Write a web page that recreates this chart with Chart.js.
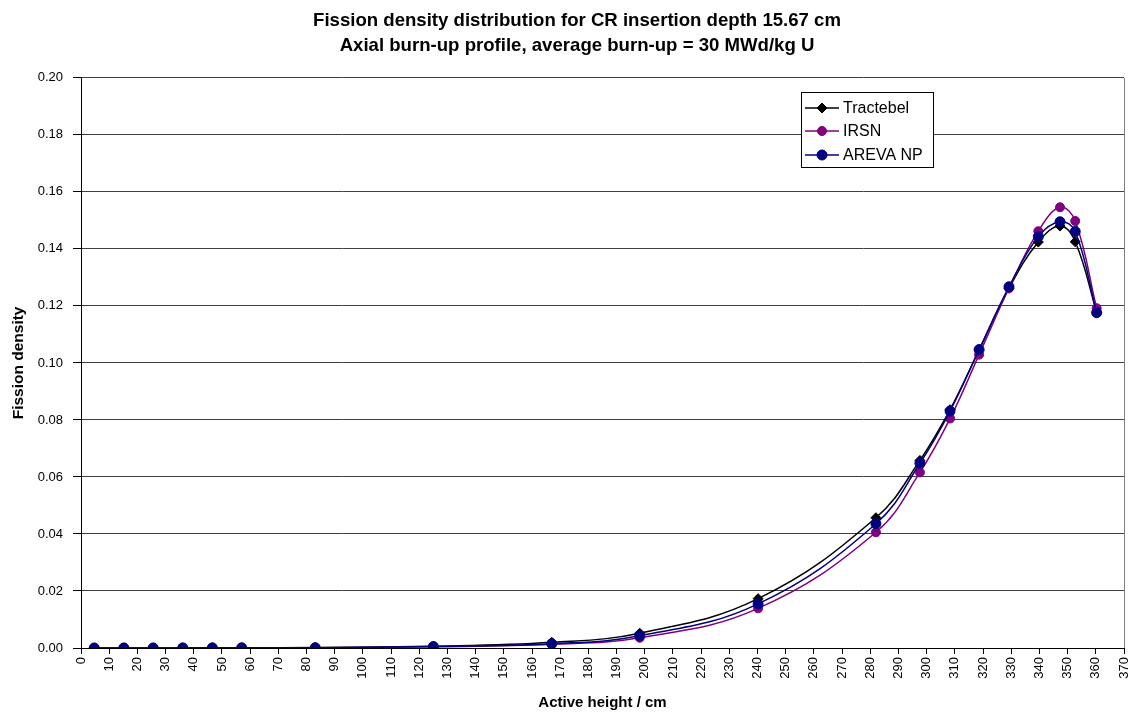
<!DOCTYPE html>
<html>
<head>
<meta charset="utf-8">
<script src="https://cdn.jsdelivr.net/npm/chart.js@4/dist/chart.umd.min.js"></script>
<style>
  html, body { margin: 0; padding: 0; background: #fff; }
  #wrap { width: 1138px; height: 715px; position: relative; }
</style>
</head>
<body>
<div id="wrap"><canvas id="c" width="1138" height="715"></canvas></div>
<script>
// ---- data ----
const heights = [4.7, 15.2, 25.6, 36.1, 46.6, 57.0, 83.1, 125.0, 167.0, 198.2, 240.2, 282.0, 297.6, 308.3, 318.6, 329.2, 339.6, 347.3, 352.7, 360.3];
const tractebel = [0.00002, 0.00003, 0.00004, 0.00005, 0.00006, 0.00008, 0.0002, 0.0006, 0.0020, 0.0052, 0.0173, 0.0457, 0.0658, 0.0836, 0.1045, 0.1262, 0.1424, 0.1480, 0.1425, 0.1178];
const irsn      = [0.00001, 0.00002, 0.00003, 0.00004, 0.00005, 0.00006, 0.0001, 0.0004, 0.0013, 0.0036, 0.0139, 0.0406, 0.0616, 0.0805, 0.1029, 0.1262, 0.1462, 0.1546, 0.1498, 0.1192];
const areva     = [0.00001, 0.00002, 0.00003, 0.00004, 0.00005, 0.00007, 0.0001, 0.0005, 0.0015, 0.0043, 0.0155, 0.0436, 0.0648, 0.0831, 0.1047, 0.1267, 0.1443, 0.1495, 0.1461, 0.1176];
const seriesNames = ['Tractebel', 'IRSN', 'AREVA NP'];
const titleLines = ['Fission density distribution for CR insertion depth 15.67 cm', 'Axial burn-up profile, average burn-up = 30 MWd/kg U'];
const xTitle = 'Active height / cm';
const yTitle = 'Fission density';

const FONT = "'Liberation Sans', Arial, sans-serif";
const toPts = ys => heights.map((x, i) => ({x: x, y: ys[i]}));

const styles = [
  {color: '#000000', pointStyle: 'rectRot', radius: 5},
  {color: '#800080', pointStyle: 'circle', radius: 4.5},
  {color: '#000080', pointStyle: 'circle', radius: 5}
];
const allSeries = [tractebel, irsn, areva];

const datasets = allSeries.map((ys, i) => ({
  label: seriesNames[i],
  data: toPts(ys),
  borderColor: styles[i].color,
  backgroundColor: styles[i].color,
  pointBackgroundColor: styles[i].color,
  pointBorderColor: styles[i].color,
  pointStyle: styles[i].pointStyle,
  pointRadius: styles[i].radius,
  pointBorderWidth: 1,
  borderWidth: 1.5,
  tension: 0.4,
  fill: false,
  order: 3 - i
}));

const excelLegend = {
  id: 'excelLegend',
  afterDatasetsDraw(chart) {
    const ctx = chart.ctx;
    const bx = 801, by = 92, bw = 132, bh = 75;
    ctx.save();
    const a = chart.chartArea;
    ctx.strokeStyle = '#808080';
    ctx.lineWidth = 1;
    ctx.beginPath();
    ctx.moveTo(Math.round(a.right) + 0.5, Math.round(a.top));
    ctx.lineTo(Math.round(a.right) + 0.5, Math.round(a.bottom));
    ctx.stroke();

    ctx.fillStyle = '#fff';
    ctx.fillRect(bx, by, bw, bh);
    ctx.strokeStyle = '#000';
    ctx.strokeRect(bx + 0.5, by + 0.5, bw, bh);
    const rows = [108, 131, 155];
    chart.data.datasets.forEach((ds, i) => {
      const y = rows[i];
      ctx.strokeStyle = ds.borderColor;
      ctx.lineWidth = 1.5;
      ctx.beginPath();
      ctx.moveTo(805, y);
      ctx.lineTo(839, y);
      ctx.stroke();
      ctx.fillStyle = ds.pointBackgroundColor;
      ctx.strokeStyle = ds.pointBorderColor;
      ctx.lineWidth = 1;
      Chart.helpers.drawPoint(ctx, {pointStyle: ds.pointStyle, radius: ds.pointRadius, borderWidth: 1, rotation: 0}, 822, y);
      ctx.fillStyle = '#000';
      ctx.font = '16px ' + FONT;
      ctx.textBaseline = 'middle';
      ctx.textAlign = 'left';
      ctx.fillText(ds.label, 843, y + 1);
    });
    ctx.restore();
  }
};

new Chart(document.getElementById('c'), {
  type: 'line',
  data: { datasets: datasets },
  plugins: [excelLegend],
  options: {
    responsive: false,
    animation: false,
    devicePixelRatio: 1,
    layout: { padding: { left: 30, right: 14, top: 0, bottom: 0 } },
    plugins: {
      legend: { display: false },
      tooltip: { enabled: false },
      title: {
        display: true,
        text: titleLines,
        color: '#000',
        font: { family: FONT, size: 18.6, weight: 'bold', lineHeight: 1.34 },
        padding: { top: 8, bottom: 20 }
      }
    },
    scales: {
      x: {
        type: 'linear',
        min: 0, max: 370,
        afterFit(scale) { scale.height = 67; scale.paddingRight = 0; scale.paddingLeft = 0; },
        ticks: {
          stepSize: 10, autoSkip: false, minRotation: 90, maxRotation: 90,
          color: '#000', font: { family: FONT, size: 13 }, padding: 3
        },
        grid: { drawOnChartArea: false, drawTicks: true, tickLength: 6, tickColor: '#000' },
        border: { color: '#000', width: 1 },
        title: {
          display: true, text: xTitle, color: '#000',
          font: { family: FONT, size: 15, weight: 'bold' },
          padding: { top: 0, bottom: 3 }
        }
      },
      y: {
        min: 0, max: 0.2,
        afterFit(scale) { scale.width = 51; },
        ticks: {
          stepSize: 0.02, color: '#000', font: { family: FONT, size: 13 }, padding: 10,
          callback: v => v.toFixed(2)
        },
        grid: { color: '#404040', drawTicks: true, tickLength: 8, tickColor: '#000', lineWidth: 1 },
        border: { color: '#000', width: 1 },
        title: {
          display: true, text: yTitle, color: '#000',
          font: { family: FONT, size: 15.5, weight: 'bold' },
          padding: { top: -21, bottom: 0 }
        }
      }
    }
  }
});
</script>
</body>
</html>
